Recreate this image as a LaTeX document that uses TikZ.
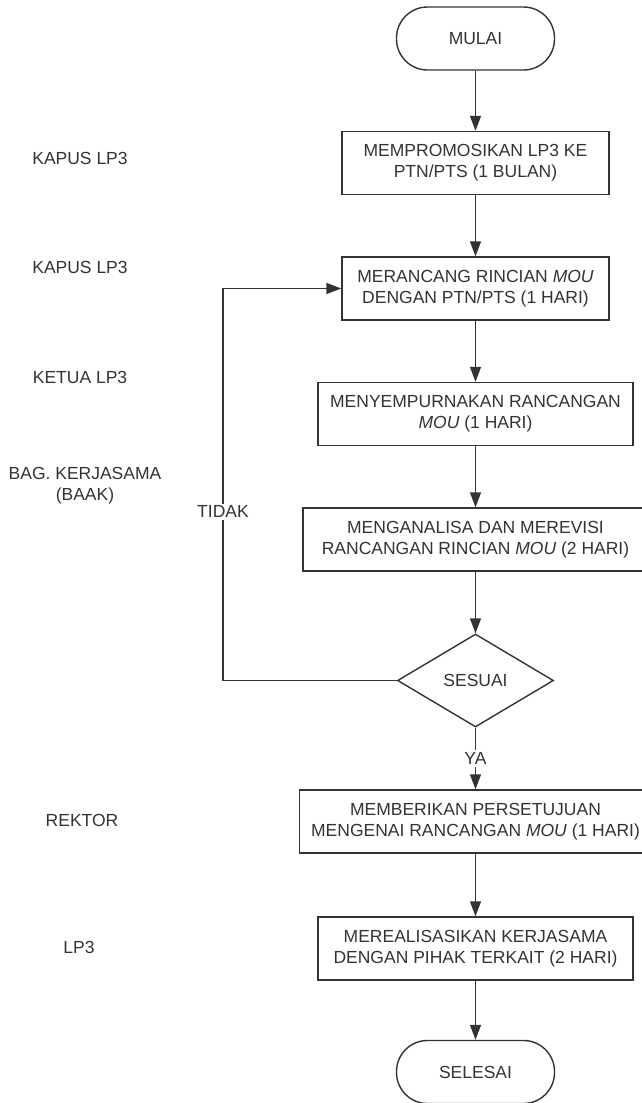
\documentclass[tikz,border=0pt]{standalone}
\usepackage{fontspec}
\setmainfont{Liberation Sans}
\usetikzlibrary{shapes.geometric,arrows.meta}
\definecolor{garis}{HTML}{333333}
\tikzset{
	teks/.style={font=\fontsize{17.5}{21}\selectfont, text=garis, align=center},
	proses/.style={teks, draw=garis, line width=1.4pt, rectangle, minimum height=63pt, inner sep=0pt},
	terminal/.style={proses, rounded corners=31pt, minimum width=158pt},
	keputusan/.style={teks, draw=garis, line width=1.4pt, diamond, minimum width=156pt, minimum height=93pt, inner sep=0pt},
	aktor/.style={teks},
	panah/.style={draw=garis, line width=1.4pt, -{Triangle[length=15pt,width=11pt]}},
	ket/.style={teks, fill=white, inner sep=2pt}
}
\begin{document}
\begin{tikzpicture}[x=1pt,y=-1pt]
			\useasboundingbox (0,0) rectangle (642,1103);
			\node[terminal] (mulai) at (475.5,38.5) {MULAI};
			\node[proses, minimum width=267pt] (p1) at (475.5,163) {MEMPROMOSIKAN LP3 KE\\PTN/PTS (1 BULAN)};
			\node[proses, minimum width=267pt] (p2) at (475.5,288.5) {MERANCANG RINCIAN \textit{MOU}\\DENGAN PTN/PTS (1 HARI)};
			\node[proses, minimum width=315pt] (p3) at (475.5,414) {MENYEMPURNAKAN RANCANGAN\\\textit{MOU} (1 HARI)};
			\node[proses, minimum width=345pt] (p4) at (475.5,539.5) {MENGANALISA DAN MEREVISI\\RANCANGAN RINCIAN \textit{MOU} (2 HARI)};
			\node[keputusan] (sesuai) at (475.5,680.5) {SESUAI};
			\node[proses, minimum width=352pt] (p5) at (475.5,821.5) {MEMBERIKAN PERSETUJUAN\\MENGENAI RANCANGAN \textit{MOU} (1 HARI)};
			\node[proses, minimum width=315pt] (p6) at (475.5,948.5) {MEREALISASIKAN KERJASAMA\\DENGAN PIHAK TERKAIT (2 HARI)};
			\node[terminal] (selesai) at (475.5,1072) {SELESAI};
			\foreach \x/\y/\teks [count=\n] in {80/158/KAPUS LP3, 80/267/KAPUS LP3, 80/377/KETUA LP3, 85/486/{BAG. KERJASAMA\\(BAAK)}, 82/820/REKTOR, 79/947/LP3}{
				\node[aktor] (aktor\n) at (\x,\y) {\teks};
			}
			\draw[panah] (mulai) -- (p1);
			\draw[panah] (p1) -- (p2);
			\draw[panah] (p2) -- (p3);
			\draw[panah] (p3) -- (p4);
			\draw[panah] (p4) -- (sesuai);
			\draw[panah] (sesuai) -- node[ket] {YA} (p5);
			\draw[panah] (p5) -- (p6);
			\draw[panah] (p6) -- (selesai);
			\coordinate (belok) at (223,680.5);
			\draw[panah] (sesuai.west) -- (belok) |- node[ket, pos=0.215] {TIDAK} (p2.west);
		\end{tikzpicture}
\end{document}
